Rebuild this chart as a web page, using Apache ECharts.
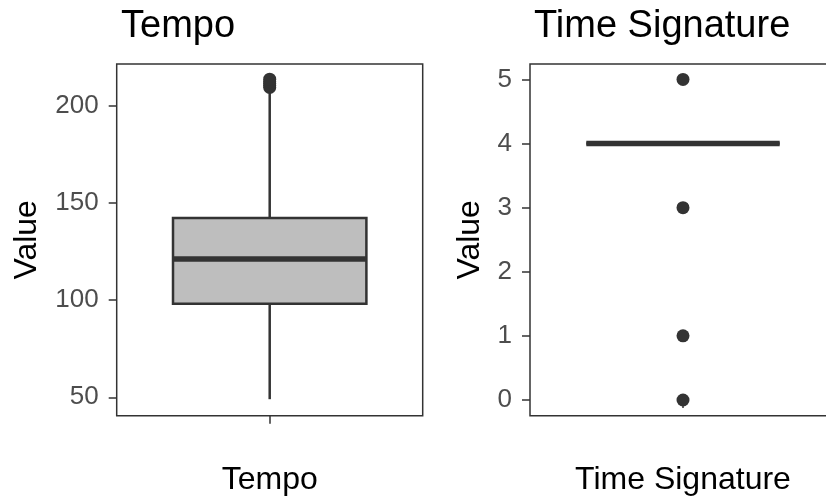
<!DOCTYPE html>
<html>
<head>
<meta charset="utf-8">
<title>Tempo / Time Signature</title>
<script src="https://cdn.jsdelivr.net/npm/echarts@6/dist/echarts.min.js"></script>
<style>
  html, body { margin: 0; padding: 0; background: #fff; }
  #chart { width: 826px; height: 498px; }
</style>
</head>
<body>
<div id="chart"></div>
<script>
// values
const tempoCategory = ['Tempo'];
const tempoBox = [49, 98.1, 121.2, 142.3, 208.2]; // min, q1, median, q3, max
const tempoOutliers = [209.5, 210.5, 211.5, 212.5, 213.8];
const tempoTicks = [50, 100, 150, 200];

const sigCategory = ['Time Signature'];
const sigBox = [4, 4, 4, 4, 4];
const sigOutliers = [0, 1, 3, 5];
const sigTicks = [0, 1, 2, 3, 4, 5];

const FONT = 'Liberation Sans, Arial, sans-serif';
const DARK = '#333333';

const chart = echarts.init(document.getElementById('chart'));

// ggplot-like box: no whisker caps, thick median
const renderBox = (params, api) => {
    const x = api.value(0);
    const lo = api.coord([x, api.value(1)]);
    const q1 = api.coord([x, api.value(2)]);
    const md = api.coord([x, api.value(3)]);
    const q3 = api.coord([x, api.value(4)]);
    const hi = api.coord([x, api.value(5)]);
    const bw = api.size([1, 0])[0] * 0.632;
    const cx = md[0];
    const line = { stroke: DARK, lineWidth: 2.5 };
    return {
        type: 'group',
        children: [
            { type: 'line', shape: { x1: cx, y1: hi[1], x2: cx, y2: q3[1] }, style: line },
            { type: 'line', shape: { x1: cx, y1: q1[1], x2: cx, y2: lo[1] }, style: line },
            { type: 'rect', shape: { x: cx - bw / 2, y: q3[1], width: bw, height: q1[1] - q3[1] },
              style: { fill: '#bebebe', stroke: DARK, lineWidth: 2.5 } },
            { type: 'line', shape: { x1: cx - bw / 2, y1: md[1], x2: cx + bw / 2, y2: md[1] },
              style: { stroke: DARK, lineWidth: 5.5 } }
        ]
    };
};

const xAxisFor = (idx, cats) => ({
    type: 'category',
    gridIndex: idx,
    data: cats,
    name: cats[0],
    nameLocation: 'middle',
    nameGap: 48,
    nameTextStyle: { fontFamily: FONT, fontSize: 32, color: '#000' },
    axisLine: { show: false },
    axisTick: { show: true, alignWithLabel: true, length: 8, lineStyle: { color: DARK, width: 1.5 } },
    axisLabel: { show: false },
    splitLine: { show: false }
});

const yAxisFor = (idx, min, max, ticks, gap) => ({
    type: 'value',
    gridIndex: idx,
    min: min,
    max: max,
    name: 'Value',
    nameLocation: 'middle',
    nameGap: gap,
    nameTextStyle: { fontFamily: FONT, fontSize: 32, color: '#000' },
    axisLine: { show: false },
    axisTick: { show: true, length: 8, customValues: ticks, lineStyle: { color: DARK, width: 1.5 } },
    axisLabel: { customValues: ticks, margin: 18, fontFamily: FONT, fontSize: 26, color: '#4d4d4d' },
    splitLine: { show: false }
});

chart.setOption({
    animation: false,
    backgroundColor: '#fff',
    title: [
        { text: 'Tempo', left: 116, top: 3,
          textStyle: { fontFamily: FONT, fontSize: 38, fontWeight: 'normal', color: '#000' } },
        { text: 'Time Signature', left: 529, top: 3,
          textStyle: { fontFamily: FONT, fontSize: 38, fontWeight: 'normal', color: '#000' } }
    ],
    grid: [
        { left: 116.7, top: 64, width: 306, height: 351.7, show: true, borderColor: DARK, borderWidth: 1.5,
          outerBoundsMode: 'none', containLabel: false },
        { left: 530, top: 64, width: 306, height: 351.7, show: true, borderColor: DARK, borderWidth: 1.5,
          outerBoundsMode: 'none', containLabel: false }
    ],
    xAxis: [xAxisFor(0, tempoCategory), xAxisFor(1, sigCategory)],
    yAxis: [
        yAxisFor(0, 40.5, 221.6, tempoTicks, 74),
        yAxisFor(1, -0.245, 5.24, sigTicks, 44)
    ],
    series: [
        {
            type: 'custom', xAxisIndex: 0, yAxisIndex: 0,
            renderItem: renderBox,
            encode: { x: 0, y: [1, 2, 3, 4, 5] },
            data: [[0].concat(tempoBox)]
        },
        {
            type: 'scatter', xAxisIndex: 0, yAxisIndex: 0,
            symbolSize: 13, itemStyle: { color: DARK, opacity: 1 },
            data: tempoOutliers.map(v => [0, v])
        },
        {
            type: 'custom', xAxisIndex: 1, yAxisIndex: 1,
            renderItem: renderBox,
            encode: { x: 0, y: [1, 2, 3, 4, 5] },
            data: [[0].concat(sigBox)]
        },
        {
            type: 'scatter', xAxisIndex: 1, yAxisIndex: 1,
            symbolSize: 13, itemStyle: { color: DARK, opacity: 1 },
            data: sigOutliers.map(v => [0, v])
        }
    ]
});

window.addEventListener('resize', () => chart.resize());
</script>
</body>
</html>
